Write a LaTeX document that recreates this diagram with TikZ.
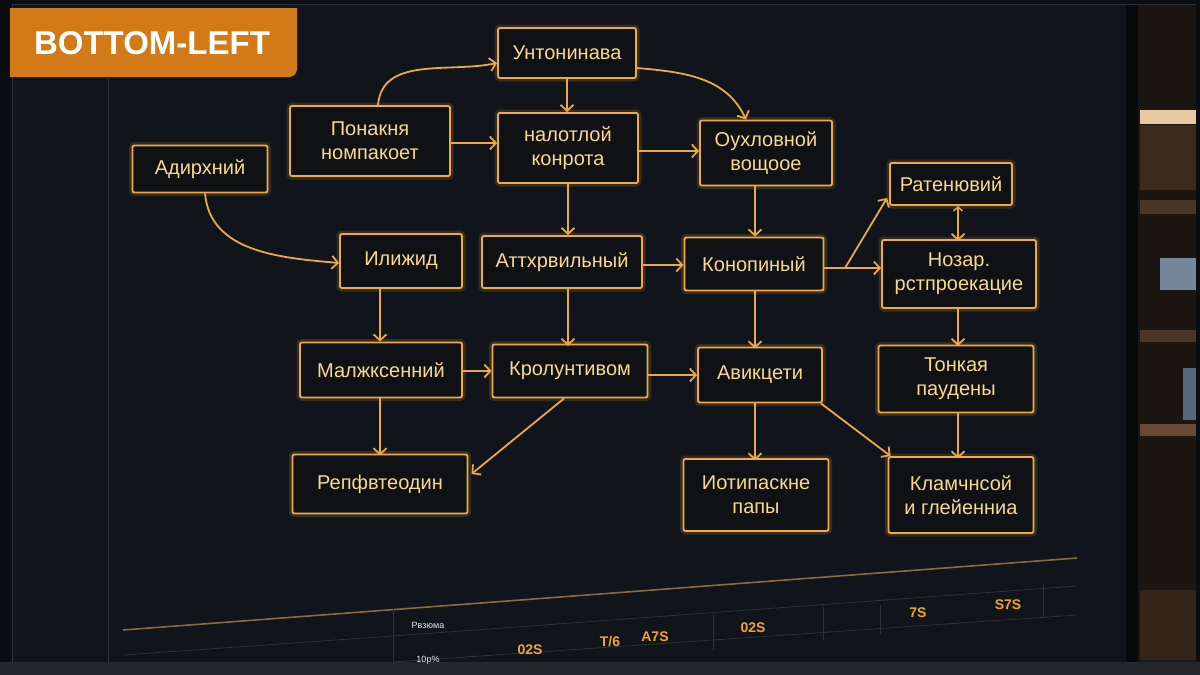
\documentclass[tikz,border=0pt]{standalone}
\usepackage{fontspec}
\setmainfont{Liberation Sans}
\usetikzlibrary{arrows.meta,calc}
\definecolor{bgc}{HTML}{0B0D10}
\definecolor{scrc}{HTML}{11151B}
\definecolor{bezelc}{HTML}{08090B}
\definecolor{boxc}{HTML}{EDAA45}
\definecolor{boxfill}{HTML}{101114}
\definecolor{txtc}{HTML}{F9D890}
\definecolor{arrc}{HTML}{EAA946}
\definecolor{tagc}{HTML}{D27A17}
\definecolor{gridc}{HTML}{2B323C}
\definecolor{numc}{HTML}{EDA53A}
\definecolor{shelfc}{HTML}{4A3526}
\definecolor{stripc}{HTML}{1B1612}
\definecolor{lampc}{HTML}{E9C9A0}
\definecolor{bluec}{HTML}{8FA4BC}
\definecolor{blue2c}{HTML}{6F8AA8}
\definecolor{shelf2c}{HTML}{6B4A33}
\definecolor{barc}{HTML}{24272B}
\definecolor{tablinec}{HTML}{8A6A40}
\begin{document}
\begin{tikzpicture}[x=1pt,y=-1pt,
  box/.style={draw=boxc, line width=1.9pt, fill=boxfill, rounded corners=2pt,
    align=center, text=txtc, font=\fontsize{20}{24}\selectfont, inner sep=0pt,
    preaction={draw=boxc, line width=7pt, draw opacity=0.16}},
  conn/.style={draw=arrc, line width=1.8pt,
    -{Straight Barb[length=6pt,width=13pt,line width=1.8pt]}},
  bconn/.style={draw=arrc, line width=1.8pt,
    {Straight Barb[length=4pt,width=9pt,line width=1.5pt]}-{Straight Barb[length=6pt,width=13pt,line width=1.8pt]}},
  num/.style={text=numc, font=\bfseries\fontsize{14}{16}\selectfont, inner sep=0pt},
  small/.style={text=white!80!gray, font=\fontsize{9}{11}\selectfont, inner sep=0pt},
  tag/.style={text=white, font=\bfseries\fontsize{33}{38}\selectfont, inner sep=0pt}
]
\useasboundingbox (0,0) rectangle (1200,675);
% backdrop
\fill[bgc] (0,0) rectangle (1200,675);
\fill[scrc] (12,4) rectangle (1126,662);
\fill[bezelc] (1126,4) rectangle (1138,662);
% shelf strip on the right
\fill[stripc] (1138,4) rectangle (1196,662);
\fill[shelfc!80!black] (1140,125) rectangle (1196,190);
\fill[lampc] (1140,110) rectangle (1196,124);
\fill[shelfc] (1140,200) rectangle (1196,214);
\fill[bluec, opacity=0.8] (1160,258) rectangle (1196,290);
\fill[shelfc] (1140,330) rectangle (1196,342);
\fill[blue2c, opacity=0.7] (1183,368) rectangle (1196,420);
\fill[shelf2c] (1140,424) rectangle (1196,436);
\fill[shelfc!70!black] (1140,590) rectangle (1196,660);
\draw[gridc, line width=0.8pt] (12,4) -- (1196,4);
\draw[gridc, line width=0.8pt] (108,78) -- (108,662);
\draw[gridc, line width=0.8pt] (12,4) -- (12,662);
\fill[barc] (0,662) rectangle (1200,675);
% tag
\fill[tagc] (10,8) -- (297,8) -- (297,69) arc[start angle=0,end angle=90,radius=8] -- (10,77) -- cycle;
\node[tag] (tag) at (152,43) {BOTTOM-LEFT};
% nodes
\node[box, minimum width=138pt, minimum height=50pt] (n1) at (567,53) {Унтонинава};
\node[box, minimum width=160pt, minimum height=70pt] (n2) at (370,141) {Понакня\\номпакоет};
\node[box, minimum width=140pt, minimum height=70pt] (n3) at (568,148) {налотлой\\конрота};
\node[box, minimum width=132pt, minimum height=65pt] (n4) at (766,153) {Оухловной\\вощоое};
\node[box, minimum width=135pt, minimum height=47pt] (n5) at (200,169) {Адирхний};
\node[box, minimum width=122pt, minimum height=42pt] (n6) at (951,184) {Ратенювий};
\node[box, minimum width=122pt, minimum height=54pt] (n7) at (401,261) {Илижид};
\node[box, minimum width=160pt, minimum height=52pt] (n8) at (562,262) {Аттхрвильный};
\node[box, minimum width=139pt, minimum height=53pt] (n9) at (754,264) {Конопиный};
\node[box, minimum width=154pt, minimum height=68pt] (n10) at (959,274) {Нозар.\\рстпроекацие};
\node[box, minimum width=162pt, minimum height=55pt] (n11) at (381,370) {Малжксенний};
\node[box, minimum width=155pt, minimum height=53pt] (n12) at (570,371) {Кролунтивом};
\node[box, minimum width=124pt, minimum height=55pt] (n13) at (760,375) {Авикцети};
\node[box, minimum width=155pt, minimum height=67pt] (n14) at (956,379) {Тонкая\\паудены};
\node[box, minimum width=175pt, minimum height=59pt] (n15) at (380,484) {Репфвтеодин};
\node[box, minimum width=145pt, minimum height=72pt] (n16) at (756,495) {Иотипаскне\\папы};
\node[box, minimum width=145pt, minimum height=76pt] (n17) at (961,495) {Кламчнсой\\и глейенниа};
% connectors
\draw[conn] ($(n2.north)+(8,0)$) to[out=85,in=192] ($(n1.west)+(0,10)$);
\draw[conn] (n2.east |- 0,143) -- (n3.west |- 0,143);
\draw[conn] (n1.south) -- (n1.south |- n3.north);
\draw[conn] ($(n1.east)+(0,15)$) to[out=-5,in=115] ($(n4.north)+(-20,0)$);
\draw[conn] (n3.east |- 0,151) -- (n4.west |- 0,151);
\draw[conn] (n3.south) -- (n3.south |- n8.north);
\draw[conn] ($(n4.south)+(-11,0)$) -- ($(n9.north)+(1,0)$);
\draw[conn] ($(n5.south)+(5,0)$) to[out=-85,in=175] ($(n7.west)+(0,2)$);
\draw[conn] ($(n7.south)+(-21,0)$) -- ($(n11.north)+(-1,0)$);
\draw[conn] (n8.east |- 0,265) -- (n9.west |- 0,265);
\draw[conn] ($(n8.south)+(6,0)$) -- ($(n8.south)+(6,57)$);
\coordinate (j) at (845,268);
\draw[conn] (n9.east |- j) -- (j -| n10.west);
\draw[conn] (j) -- ($(n6.south west)+(-2,-8)$);
\draw[bconn] ($(n6.south)+(7,0)$) -- ($(n6.south)+(7,35)$);
\draw[conn] ($(n9.south)+(1,0)$) -- ($(n9.south)+(1,57)$);
\draw[conn] (n11.east |- 0,371) -- (n12.west |- 0,371);
\draw[conn] (n12.east |- 0,375) -- (n13.west |- 0,375);
\draw[conn] ($(n10.south)+(-1,0)$) -- ($(n10.south)+(-1,37)$);
\draw[conn] ($(n11.south)+(-1,0)$) -- ($(n11.south)+(-1,57)$);
\draw[conn] ($(n12.south)+(-6,0)$) -- ($(n15.east)+(3,-10)$);
\draw[conn] ($(n13.south)+(-5,0)$) -- ($(n13.south)+(-5,57)$);
\draw[conn] ($(n13.south east)+(-2,0)$) -- ($(n17.north west)+(3,0)$);
\draw[conn] ($(n14.south)+(2,0)$) -- ($(n14.south)+(2,45)$);
% bottom table in perspective
\draw[tablinec, line width=1.6pt] (123,630) -- (1077,558);
\draw[gridc, line width=0.8pt] (123,655) -- (393,636);
\draw[gridc, line width=0.8pt] (393,636) -- (1077,586);
\draw[gridc, line width=0.8pt] (393,662) -- (1077,615);
\draw[gridc, line width=0.8pt] (393,609) -- (393,662);
\draw[gridc, line width=0.8pt] (713,615) -- (713,650);
\draw[gridc, line width=0.8pt] (823,607) -- (823,640);
\draw[gridc, line width=0.8pt] (880,605) -- (880,634);
\draw[gridc, line width=0.8pt] (1043,585) -- (1043,617);
\node[small] (t1) at (428,625) {Рвзюма};
\node[small] (t2) at (428,660) {10р\%};
\node[num] (v1) at (530,650) {02S};
\node[num] (v2) at (610,642) {T/6};
\node[num] (v3) at (655,637) {A7S};
\node[num] (v4) at (753,628) {02S};
\node[num] (v5) at (918,613) {7S};
\node[num] (v6) at (1008,605) {S7S};
\end{tikzpicture}
\end{document}
